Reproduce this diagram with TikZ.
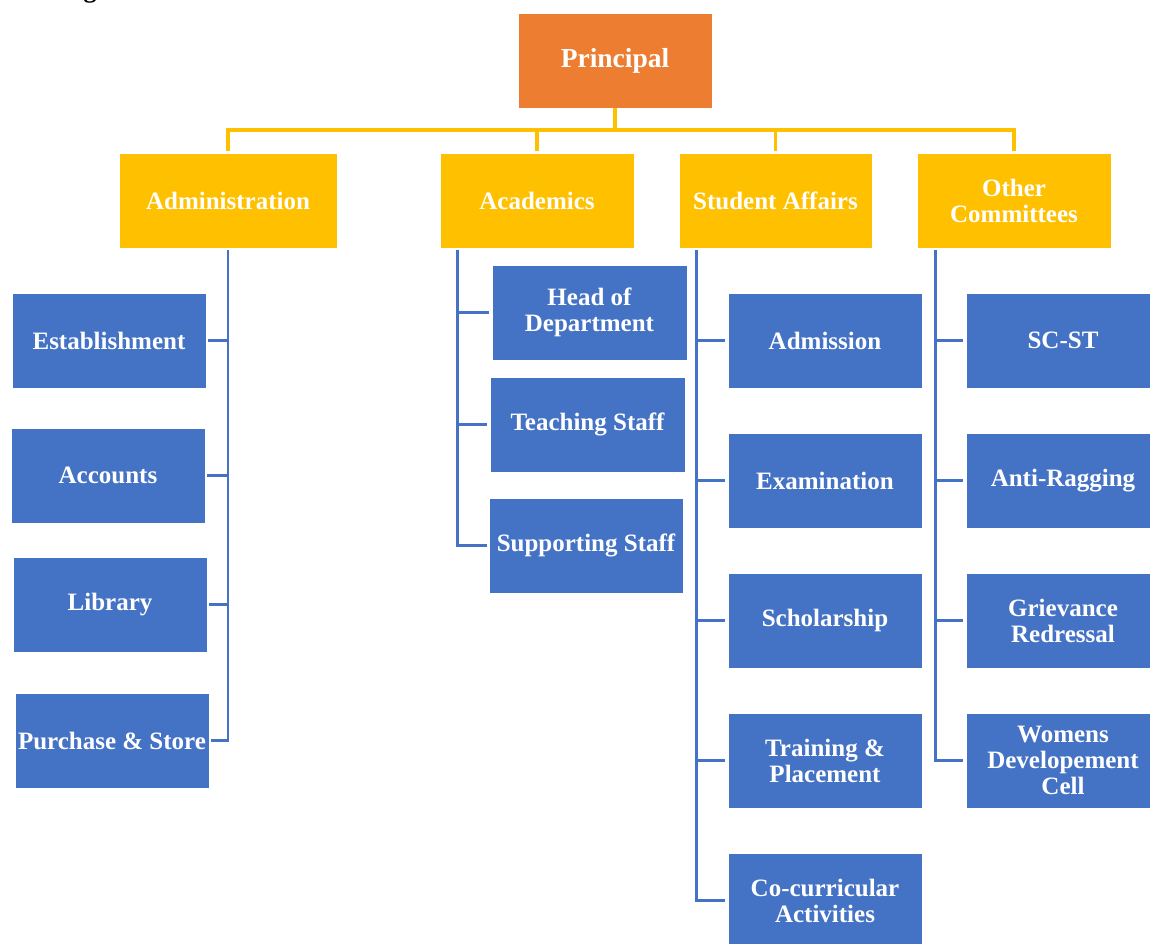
\documentclass[tikz,border=0pt]{standalone}
\usepackage{fontspec}
\setmainfont{Liberation Serif}
\definecolor{orgc}{HTML}{ED7D31}
\definecolor{yelc}{HTML}{FFC000}
\definecolor{bluc}{HTML}{4472C4}
\tikzset{
  box/.style={rectangle, draw=white, line width=0.4pt, text=white, align=center,
    minimum width=194pt, minimum height=95pt, inner sep=1pt,
    font=\bfseries\fontsize{25}{26}\selectfont},
  topbox/.style={box, fill=orgc, font=\bfseries\fontsize{27.5}{30}\selectfont},
  midbox/.style={box, fill=yelc},
  subbox/.style={box, fill=bluc},
  yline/.style={draw=yelc, line width=3.2pt},
  bline/.style={draw=bluc, line width=2.8pt},
}
\begin{document}
\begin{tikzpicture}[x=1pt,y=-1pt]
\useasboundingbox (0,0) rectangle (1150,943);
\clip (0,0) rectangle (1150,943);
\node[anchor=base, font=\bfseries\fontsize{26}{30}\selectfont] (hd) at (90,-3) {g};
% top
\node[topbox] (prin) at (615,60.5) {Principal};
\node[midbox, minimum width=218pt] (admin) at (228,200.5) {Administration};
\node[midbox] (acad) at (537,200.5) {Academics};
\node[midbox, minimum width=193pt] (sa) at (775.5,200.5) {Student Affairs};
\node[midbox] (oth) at (1014,200.5) {Other\\Committees};
% admin children
\node[subbox] (est) at (109,340.5) {Establishment};
\node[subbox] (acc) at (108,475.5) {Accounts};
\node[subbox] (lib) at (110,604.5) {Library};
\node[subbox] (pur) at (112,740.5) {Purchase \& Store};
% academics children
\node[subbox, minimum width=195pt] (hod) at (589.5,312.5) {Head of\\Department};
\node[subbox, minimum width=195pt] (tea) at (587.5,424.5) {Teaching Staff};
\node[subbox] (sup) at (586,545.5) {Supporting Staff};
% student affairs children
\node[subbox] (adm) at (825,340.5) {Admission};
\node[subbox] (exa) at (825,480.5) {Examination};
\node[subbox] (sch) at (825,620.5) {Scholarship};
\node[subbox] (trp) at (825,760.5) {Training \&\\Placement};
\node[subbox] (coc) at (825,900.5) {Co-curricular\\Activities};
% other committees children
\node[subbox] (scs) at (1063,340.5) {SC-ST};
\node[subbox] (ant) at (1063,480.5) {Anti-Ragging};
\node[subbox] (gri) at (1063,620.5) {Grievance\\Redressal};
\node[subbox] (wom) at (1063,760.5) {Womens\\Developement\\Cell};
% yellow connectors
\coordinate (bus) at (0,130);
\draw[yline] (prin.south) -- (prin.south |- bus);
\draw[yline, shorten <=-1.6pt, shorten >=-1.6pt] (admin.north |- bus) -- (oth.north |- bus);
\draw[yline, shorten >=2pt] (admin.north |- bus) -- (admin.north);
\draw[yline, shorten >=2pt] (acad.north |- bus) -- (acad.north);
\draw[yline, shorten >=2pt] (sa.north |- bus) -- (sa.north);
\draw[yline, shorten >=2pt] (oth.north |- bus) -- (oth.north);
% blue connectors: administration
\draw[bline, shorten <=2pt] (admin.south) -- (admin.south |- pur.east) -- ([xshift=2pt]pur.east);
\draw[bline, shorten >=2pt] (admin.south |- est.east) -- (est.east);
\draw[bline, shorten >=2pt] (admin.south |- acc.east) -- (acc.east);
\draw[bline, shorten >=2pt] (admin.south |- lib.east) -- (lib.east);
% academics
\coordinate (acv) at ([xshift=18pt]acad.south west);
\draw[bline, shorten <=2pt] (acv) -- (acv |- sup.west) -- ([xshift=-2pt]sup.west);
\draw[bline, shorten >=3pt] (acv |- hod.west) -- (hod.west);
\draw[bline, shorten >=3pt] (acv |- tea.west) -- (tea.west);
% student affairs
\coordinate (sav) at ([xshift=18pt]sa.south west);
\draw[bline, shorten <=2pt] (sav) -- (sav |- coc.west) -- ([xshift=-3pt]coc.west);
\draw[bline, shorten >=3pt] (sav |- adm.west) -- (adm.west);
\draw[bline, shorten >=3pt] (sav |- exa.west) -- (exa.west);
\draw[bline, shorten >=3pt] (sav |- sch.west) -- (sch.west);
\draw[bline, shorten >=3pt] (sav |- trp.west) -- (trp.west);
% other committees
\coordinate (otv) at ([xshift=19pt]oth.south west);
\draw[bline, shorten <=2pt] (otv) -- (otv |- wom.west) -- ([xshift=-3pt]wom.west);
\draw[bline, shorten >=3pt] (otv |- scs.west) -- (scs.west);
\draw[bline, shorten >=3pt] (otv |- ant.west) -- (ant.west);
\draw[bline, shorten >=3pt] (otv |- gri.west) -- (gri.west);
\end{tikzpicture}
\end{document}
